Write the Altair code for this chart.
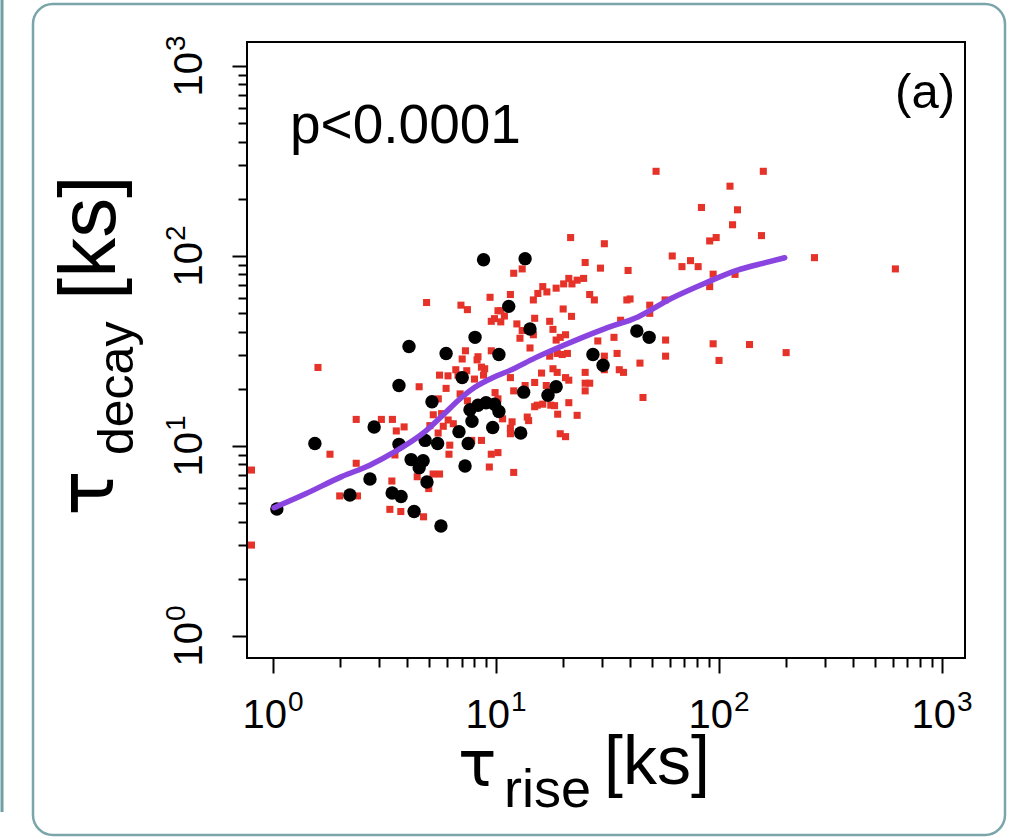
import altair as alt
import pandas as pd

# ---------------- data ----------------
red_x = [0.80, 0.80, 1.59, 1.80, 1.99, 2.39, 2.36, 2.36, 3.06, 3.43, 3.34, 3.74, 3.87, 4.52, 4.88,
         4.73, 4.99, 5.22, 4.43, 4.52, 5.58, 5.05, 5.70, 5.51, 5.97, 5.58, 6.09, 6.60, 7.05, 7.29,
         6.96, 7.44, 6.90, 7.44, 7.39, 8.79, 8.22, 8.60, 8.89, 9.52, 9.40, 10.2, 9.52, 9.84, 10.5,
         10.9, 10.5, 11.6, 12.0, 13.1, 12.4, 13.1, 11.6, 12.0, 11.6, 10.2, 9.52, 9.33, 12.0, 8.60,
         10.2, 11.6, 13.5, 14.2, 14.7, 14.7, 15.4, 16.2, 16.9, 18.6, 20.1, 21.2, 21.9, 23.1, 24.7,
         25.1, 21.6, 30.6, 26.3, 27.6, 17.4, 18.0, 18.6, 19.4, 20.5, 17.4, 18.8, 19.8, 20.9, 18.0,
         18.8, 20.5, 21.2, 16.8, 17.4, 16.2, 18.3, 14.9, 14.0, 19.4, 20.5, 21.2, 23.1, 25.1, 25.1,
         25.1, 26.3, 30.6, 30.6, 33.8, 34.9, 35.7, 37.3, 36.2, 38.6, 39.9, 39.1, 44.2, 45.6, 48.9,
         48.9, 52.2, 57.6, 57.6, 61.7, 68.2, 74.5, 80.6, 83.4, 90.8, 90.8, 97.1, 94.1, 94.1, 100,
         112, 121, 115, 118, 137, 155, 158, 200, 268, 618,
         6.15, 7.78, 29.4, 20.0, 21.8, 14.9, 12.8, 8.30, 28.6, 57.3, 3.57, 3.52, 3.41, 5.23, 6.10,
         6.43, 5.80, 5.50, 6.20, 10.7, 11.8, 13.8, 15.3, 17.6, 18.9, 16.0, 14.9, 9.90, 6.75, 8.00]
red_y = [7.47, 3.01, 25.9, 9.05, 5.46, 5.46, 8.11, 13.8, 13.8, 13.8, 4.64, 4.52, 12.6, 20.5, 56.9,
         4.24, 5.97, 7.12, 6.89, 8.31, 7.12, 12.8, 14.8, 17.7, 20.1, 23.6, 23.4, 25.2, 28.7, 31.7,
         55.1, 52.2, 18.8, 17.3, 24.9, 23.6, 28.4, 26.0, 25.5, 31.7, 60.6, 51.5, 45.3, 46.8, 51.5,
         48.3, 45.0, 62.7, 81.1, 85.5, 43.9, 40.5, 22.9, 19.5, 11.6, 9.23, 9.05, 7.75, 7.26, 10.7,
         17.7, 12.4, 20.8, 32.8, 38.5, 58.7, 63.5, 69.0, 64.7, 67.7, 71.3, 76.2, 71.3, 74.6, 76.2,
         92.4, 125, 116, 62.7, 58.7, 45.3, 41.1, 36.1, 37.3, 38.5, 29.7, 30.7, 30.3, 30.7, 25.5,
         24.4, 22.9, 22.2, 20.8, 18.8, 16.6, 16.3, 16.1, 13.6, 11.6, 11.2, 16.9, 14.5, 19.5, 21.4,
         24.4, 21.4, 25.2, 29.7, 37.3, 30.7, 25.2, 24.4, 45.9, 58.7, 59.4, 83.9, 27.3, 18.0, 55.1,
         49.9, 279, 36.1, 29.7, 100, 87.9, 94.5, 87.9, 180, 120, 69.0, 125, 80.2, 34.5, 28.2,
         233, 175, 146, 80.0, 34.2, 128, 279, 31.0, 98.0, 85.5,
         9.05, 10.7, 86.3, 52.6, 48.1, 47.0, 36.9, 29.5, 35.7, 58.7, 12.0, 8.97, 6.54, 14.6, 13.7,
         13.1, 12.7, 11.7, 10.1, 13.9, 13.4, 14.2, 16.4, 16.4, 14.7, 24.2, 21.6, 19.1, 23.6, 22.5]

black_x = [1.04, 1.54, 2.21, 2.72, 2.84, 3.42, 3.75, 3.67, 3.67, 4.07, 4.16, 4.29, 4.52, 4.71, 4.81,
           4.90, 5.16, 5.47, 5.66, 5.97, 6.82, 7.05, 7.26, 7.50, 7.64, 7.80, 8.05, 8.30, 8.79, 9.02,
           9.66, 9.84, 10.3, 10.3, 11.4, 12.9, 13.3, 13.5, 14.2, 17.1, 18.6, 27.2, 30.2, 42.8, 48.6]
black_y = [4.66, 10.3, 5.52, 6.70, 12.6, 5.66, 5.42, 10.2, 20.8, 33.4, 8.48, 4.52, 7.69, 8.37, 10.7,
           6.46, 17.1, 10.3, 3.79, 30.7, 11.9, 22.9, 7.85, 10.3, 15.5, 13.5, 37.3, 16.4, 95.5, 16.9,
           12.5, 16.6, 15.2, 30.3, 54.3, 11.7, 19.2, 96.8, 41.3, 18.5, 20.5, 30.3, 26.6, 40.3, 37.3]

curve_x = [1.01, 1.4, 2.03, 2.7, 3.52, 4.8, 5.8, 6.78, 8.0, 9.6, 12.0, 14.9, 20.0, 30.8, 43.3,
           61.3, 86.5, 121, 160, 197]
curve_y = [4.73, 5.6, 6.9, 7.9, 9.33, 11.9, 14.6, 17.4, 20.3, 22.8, 25.5, 29.0, 33.8, 41.5, 47.8,
           59.9, 71.9, 84.2, 92.0, 97.9]

decades = [1, 10, 100, 1000]
exponents = ["0", "1", "2", "3"]
tick_values = [m * 10 ** e for e in range(3) for m in range(1, 10)] + [1000]

# ---------------- chart ----------------
W, H = 718, 616
FONT = "Liberation Sans"
GREEK = "DejaVu Sans"
xscale = alt.Scale(type="log", domain=[0.764, 1268], nice=False)
yscale = alt.Scale(type="log", domain=[0.766, 1337], nice=False)

major = "abs(log(datum.value)/LN10 - round(log(datum.value)/LN10)) < 0.001"
tick_size = {"condition": {"test": major, "value": 15}, "value": 9}

x_axis = alt.Axis(values=tick_values, labels=False, title=None, domain=False, grid=False,
                  tickColor="black", tickWidth=2, tickSize=tick_size)
y_axis = alt.Axis(values=tick_values, labels=False, title=None, domain=False, grid=False,
                  tickColor="black", tickWidth=2, tickSize=tick_size)


def X(f):
    return alt.X(f, type="quantitative", scale=xscale, axis=x_axis)


def Y(f):
    return alt.Y(f, type="quantitative", scale=yscale, axis=y_axis)


red_df = pd.DataFrame({"x": red_x, "y": red_y})
black_df = pd.DataFrame({"x": black_x, "y": black_y})
curve_df = pd.DataFrame({"x": curve_x, "y": curve_y})
dec_df = pd.DataFrame({"value": decades, "base": ["10"] * 4, "exp": exponents})

frame = alt.Chart(pd.DataFrame({"a": [0]})).mark_rect(
    fill=None, stroke="#7aa5aa", strokeWidth=2.5, cornerRadius=20
).encode(x=alt.value(-214), x2=alt.value(758), y=alt.value(-38), y2=alt.value(793))

left_edge = alt.Chart(pd.DataFrame({"a": [0]})).mark_rule(
    stroke="#6f9ea3", strokeWidth=3
).encode(x=alt.value(-245), y=alt.value(-42), y2=alt.value(770))

red = alt.Chart(red_df).mark_square(size=50, color="#e6332a", opacity=1).encode(
    x=X("x"), y=Y("y"))
black = alt.Chart(black_df).mark_circle(size=180, color="black", opacity=1).encode(
    x=X("x"), y=Y("y"))
curve = alt.Chart(curve_df).mark_line(
    color="#8a45e0", strokeWidth=5.5, interpolate="monotone", strokeCap="round"
).encode(x=X("x"), y=Y("y"), order="x:Q")

# x tick labels
xlab_base = alt.Chart(dec_df).mark_text(
    align="right", baseline="alphabetic", fontSize=40, font=FONT, dx=14, color="black"
).encode(x=X("value"), y=alt.value(H + 70), text="base:N")
xlab_exp = alt.Chart(dec_df).mark_text(
    align="left", baseline="alphabetic", fontSize=28, font=FONT, dx=15, dy=-17, color="black"
).encode(x=X("value"), y=alt.value(H + 70), text="exp:N")

# y tick labels (rotated)
ylab_base = alt.Chart(dec_df).mark_text(
    align="right", baseline="alphabetic", fontSize=40, font=FONT, angle=270, dx=14, color="black"
).encode(y=Y("value"), x=alt.value(-45), text="base:N")
ylab_exp = alt.Chart(dec_df).mark_text(
    align="left", baseline="alphabetic", fontSize=28, font=FONT, angle=270, dx=15, dy=-17,
    color="black"
).encode(y=Y("value"), x=alt.value(-45), text="exp:N")


def txt(s, x, y, size, angle=0, align="left", font=FONT):
    kw = dict(align=align, baseline="alphabetic", fontSize=size, font=font, color="black")
    if angle:
        kw["angle"] = angle
    return alt.Chart(pd.DataFrame({"t": [s]})).mark_text(**kw).encode(
        x=alt.value(x), y=alt.value(y), text="t:N")


annots = [
    txt("p<0.0001", 43, 101, 55),
    txt("(a)", 708, 66, 49, align="right"),
    # x title
    txt("τ", 211, 744, 64, font=GREEK),
    txt("rise", 257, 765, 54),
    txt("[ks]", 357, 742, 68),
    # y title
    txt("τ", -134, 474, 76, angle=270, font=GREEK),
    txt("decay", -114, 413, 50, angle=270),
    txt("[ks]", -132, 258, 80, angle=270),
]

chart = alt.layer(
    frame, left_edge, red, black, curve, xlab_base, xlab_exp, ylab_base, ylab_exp, *annots
).properties(
    width=W, height=H,
    autosize=alt.AutoSizeParams(type="none"),
    padding={"left": 247, "top": 42, "right": 50, "bottom": 182},
    background="white",
).configure_view(
    stroke="black", strokeWidth=2
)

chart.save("out.html", embed_options={"renderer": "svg", "actions": False})
